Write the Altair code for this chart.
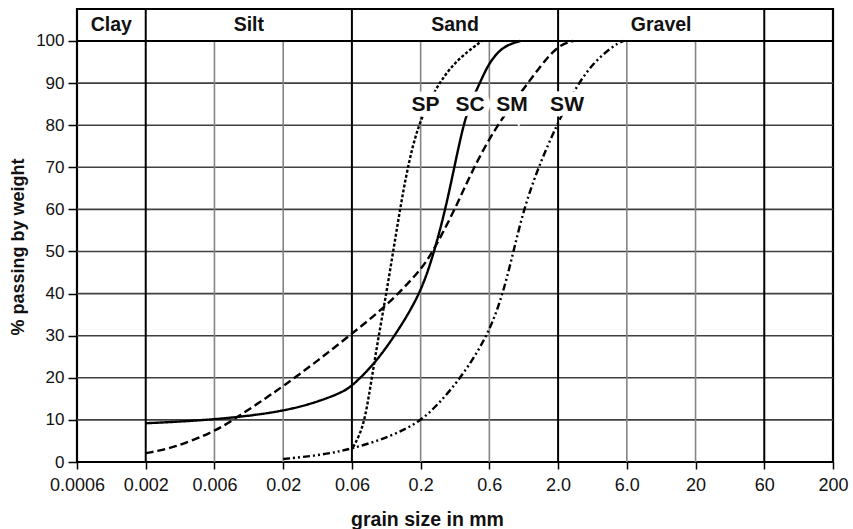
import altair as alt
import pandas as pd

# ---- data ----
x_labels = ["0.0006", "0.002", "0.006", "0.02", "0.06", "0.2", "0.6", "2.0", "6.0", "20", "60", "200"]
y_ticks = [0, 10, 20, 30, 40, 50, 60, 70, 80, 90, 100]

section_names = ["Clay", "Silt", "Sand", "Gravel"]
section_bounds = [0, 1, 4, 7, 10, 11]   # in tick-index units
major_lines = [1, 4, 7, 10]
minor_lines = [2, 3, 5, 6, 8, 9]

sc_x = [1, 2, 3, 3.58, 3.87, 4.0, 4.34, 4.65, 5.0, 5.2, 5.36, 5.49, 5.62, 5.72, 5.86, 6.0, 6.2, 6.45]
sc_y = [9.2, 10.0, 11.9, 14.7, 16.7, 18.0, 23.5, 30.6, 40, 50, 60, 70, 80, 85, 90, 95, 98.8, 100]

sm_x = [1, 1.4, 2, 2.3, 2.66, 3, 3.5, 4, 4.5, 5.0, 5.18, 5.5, 5.77, 6.11, 6.47, 6.74, 7.0, 7.22]
sm_y = [2.1, 3.3, 7.2, 10.3, 14.2, 18, 24, 30.5, 37, 45.5, 50, 60, 70, 80, 88, 94, 99, 100]

sp_x = [4.02, 4.1, 4.19, 4.29, 4.39, 4.5, 4.6, 4.7, 4.81, 4.96, 5.19, 5.48, 5.89]
sp_y = [3.6, 6.0, 10, 20, 30, 40, 50, 60, 70, 80, 88, 95, 100]

sw_x = [3.0, 3.58, 4.0, 4.56, 5.0, 5.3, 5.6, 5.98, 6.2, 6.35, 6.5, 6.71, 6.98, 7.22, 7.51, 7.86, 7.95]
sw_y = [0.7, 1.7, 3.1, 6.0, 9.6, 14.5, 20.3, 30, 40, 50, 60, 70, 80, 88, 95, 99.5, 100]

curve_names = ["SP", "SC", "SM", "SW"]
curve_label_x = [5.07, 5.72, 6.33, 7.13]
curve_label_y = [84.8, 84.8, 84.8, 84.8]

# ---- tables ----
rows = []
for name, xs, ys in [("SC", sc_x, sc_y), ("SM", sm_x, sm_y), ("SP", sp_x, sp_y), ("SW", sw_x, sw_y)]:
    for i, (a, b) in enumerate(zip(xs, ys)):
        rows.append({"soil": name, "x": a, "y": b, "order": i})
curves = pd.DataFrame(rows)

labels_df = pd.DataFrame({"name": curve_names, "x": curve_label_x, "y": curve_label_y})
header_df = pd.DataFrame({
    "name": section_names,
    "x": [(section_bounds[i] + section_bounds[i + 1]) / 2 for i in range(len(section_names))],
})
hgrid = pd.DataFrame({"y": [v for v in y_ticks if 0 < v < 100]})
top_df = pd.DataFrame({"y": [100]})
major_df = pd.DataFrame({"x": major_lines})
minor_df = pd.DataFrame({"x": minor_lines})

YTOP = 107.6
FONT = "Liberation Sans"

xscale = alt.Scale(domain=[0, 11], nice=False, zero=False)
yscale = alt.Scale(domain=[0, YTOP], nice=False, zero=True)

label_expr = "[" + ",".join("'%s'" % s for s in x_labels) + "][datum.value]"

xaxis = alt.Axis(values=list(range(len(x_labels))), labelExpr=label_expr, title="grain size in mm",
                 grid=False, domain=False, ticks=True, tickSize=7, tickColor="black", tickWidth=1.5,
                 labelFontSize=18, labelFont=FONT, labelColor="#111", labelPadding=7,
                 titleFont=FONT, titleFontSize=19.5, titleFontWeight="bold", titleColor="#111",
                 titleX=350, titleY=57, titleAnchor="middle", titleBaseline="middle", labelFlush=False)
yaxis = alt.Axis(values=y_ticks, title="% passing by weight", grid=False, domain=False,
                 ticks=True, tickSize=9, tickColor="black", tickWidth=1.5,
                 labelFontSize=17, labelFont=FONT, labelColor="#111", labelPadding=4,
                 titleFont=FONT, titleFontSize=18, titleFontWeight="bold", titleColor="#111",
                 titleX=-59, titleY=237.5, titleAngle=-90, titleBaseline="middle", titleAnchor="middle")

base = alt.Chart(curves)

axes_layer = base.mark_point(opacity=0).encode(
    x=alt.X("x:Q", scale=xscale, axis=xaxis),
    y=alt.Y("y:Q", scale=yscale, axis=yaxis),
)

h_rules = alt.Chart(hgrid).mark_rule(color="#404040", strokeWidth=1.6).encode(
    y=alt.Y("y:Q", scale=yscale))
top_rule = alt.Chart(top_df).mark_rule(color="black", strokeWidth=2.2).encode(
    y=alt.Y("y:Q", scale=yscale))
minor_rules = alt.Chart(minor_df).mark_rule(color="#858585", strokeWidth=1.6).encode(
    x=alt.X("x:Q", scale=xscale),
    y=alt.Y("y0:Q", scale=yscale), y2=alt.Y2("y1:Q")
).transform_calculate(y0="0", y1="100")
major_rules = alt.Chart(major_df).mark_rule(color="black", strokeWidth=2).encode(
    x=alt.X("x:Q", scale=xscale),
    y=alt.Y("y0:Q", scale=yscale), y2=alt.value(0)
).transform_calculate(y0="0")

lines = base.mark_line(color="black", strokeWidth=2.4, interpolate="basis").encode(
    x=alt.X("x:Q", scale=xscale),
    y=alt.Y("y:Q", scale=yscale),
    detail="soil:N",
    order="order:Q",
    strokeDash=alt.StrokeDash("soil:N", legend=None, scale=alt.Scale(
        domain=["SC", "SM", "SP", "SW"],
        range=[[1, 0], [8, 4], [3, 2], [7, 3, 2, 3, 2, 3]])),
)

halo = alt.Chart(labels_df).mark_text(font=FONT, fontSize=21, fontWeight="bold", color="white",
                                     stroke="white", strokeWidth=11, baseline="middle").encode(
    x=alt.X("x:Q", scale=xscale), y=alt.Y("y:Q", scale=yscale), text="name:N")
label_text = alt.Chart(labels_df).mark_text(font=FONT, fontSize=21, fontWeight="bold", color="#111",
                                           baseline="middle").encode(
    x=alt.X("x:Q", scale=xscale), y=alt.Y("y:Q", scale=yscale), text="name:N")

header = alt.Chart(header_df).mark_text(font=FONT, fontSize=19.5, fontWeight="bold", color="#111",
                                       baseline="middle").encode(
    x=alt.X("x:Q", scale=xscale), y=alt.value(16), text="name:N")

chart = alt.layer(axes_layer, h_rules, minor_rules, major_rules, top_rule, lines, halo, label_text, header).properties(
    width=756, height=453,
    autosize=alt.AutoSizeParams(type="none"),
    padding={"left": 77, "top": 9, "right": 20, "bottom": 67},
    background="white",
).configure_view(stroke="black", strokeWidth=2.2)

chart.save("out.html", embed_options={"renderer": "svg", "actions": False})
